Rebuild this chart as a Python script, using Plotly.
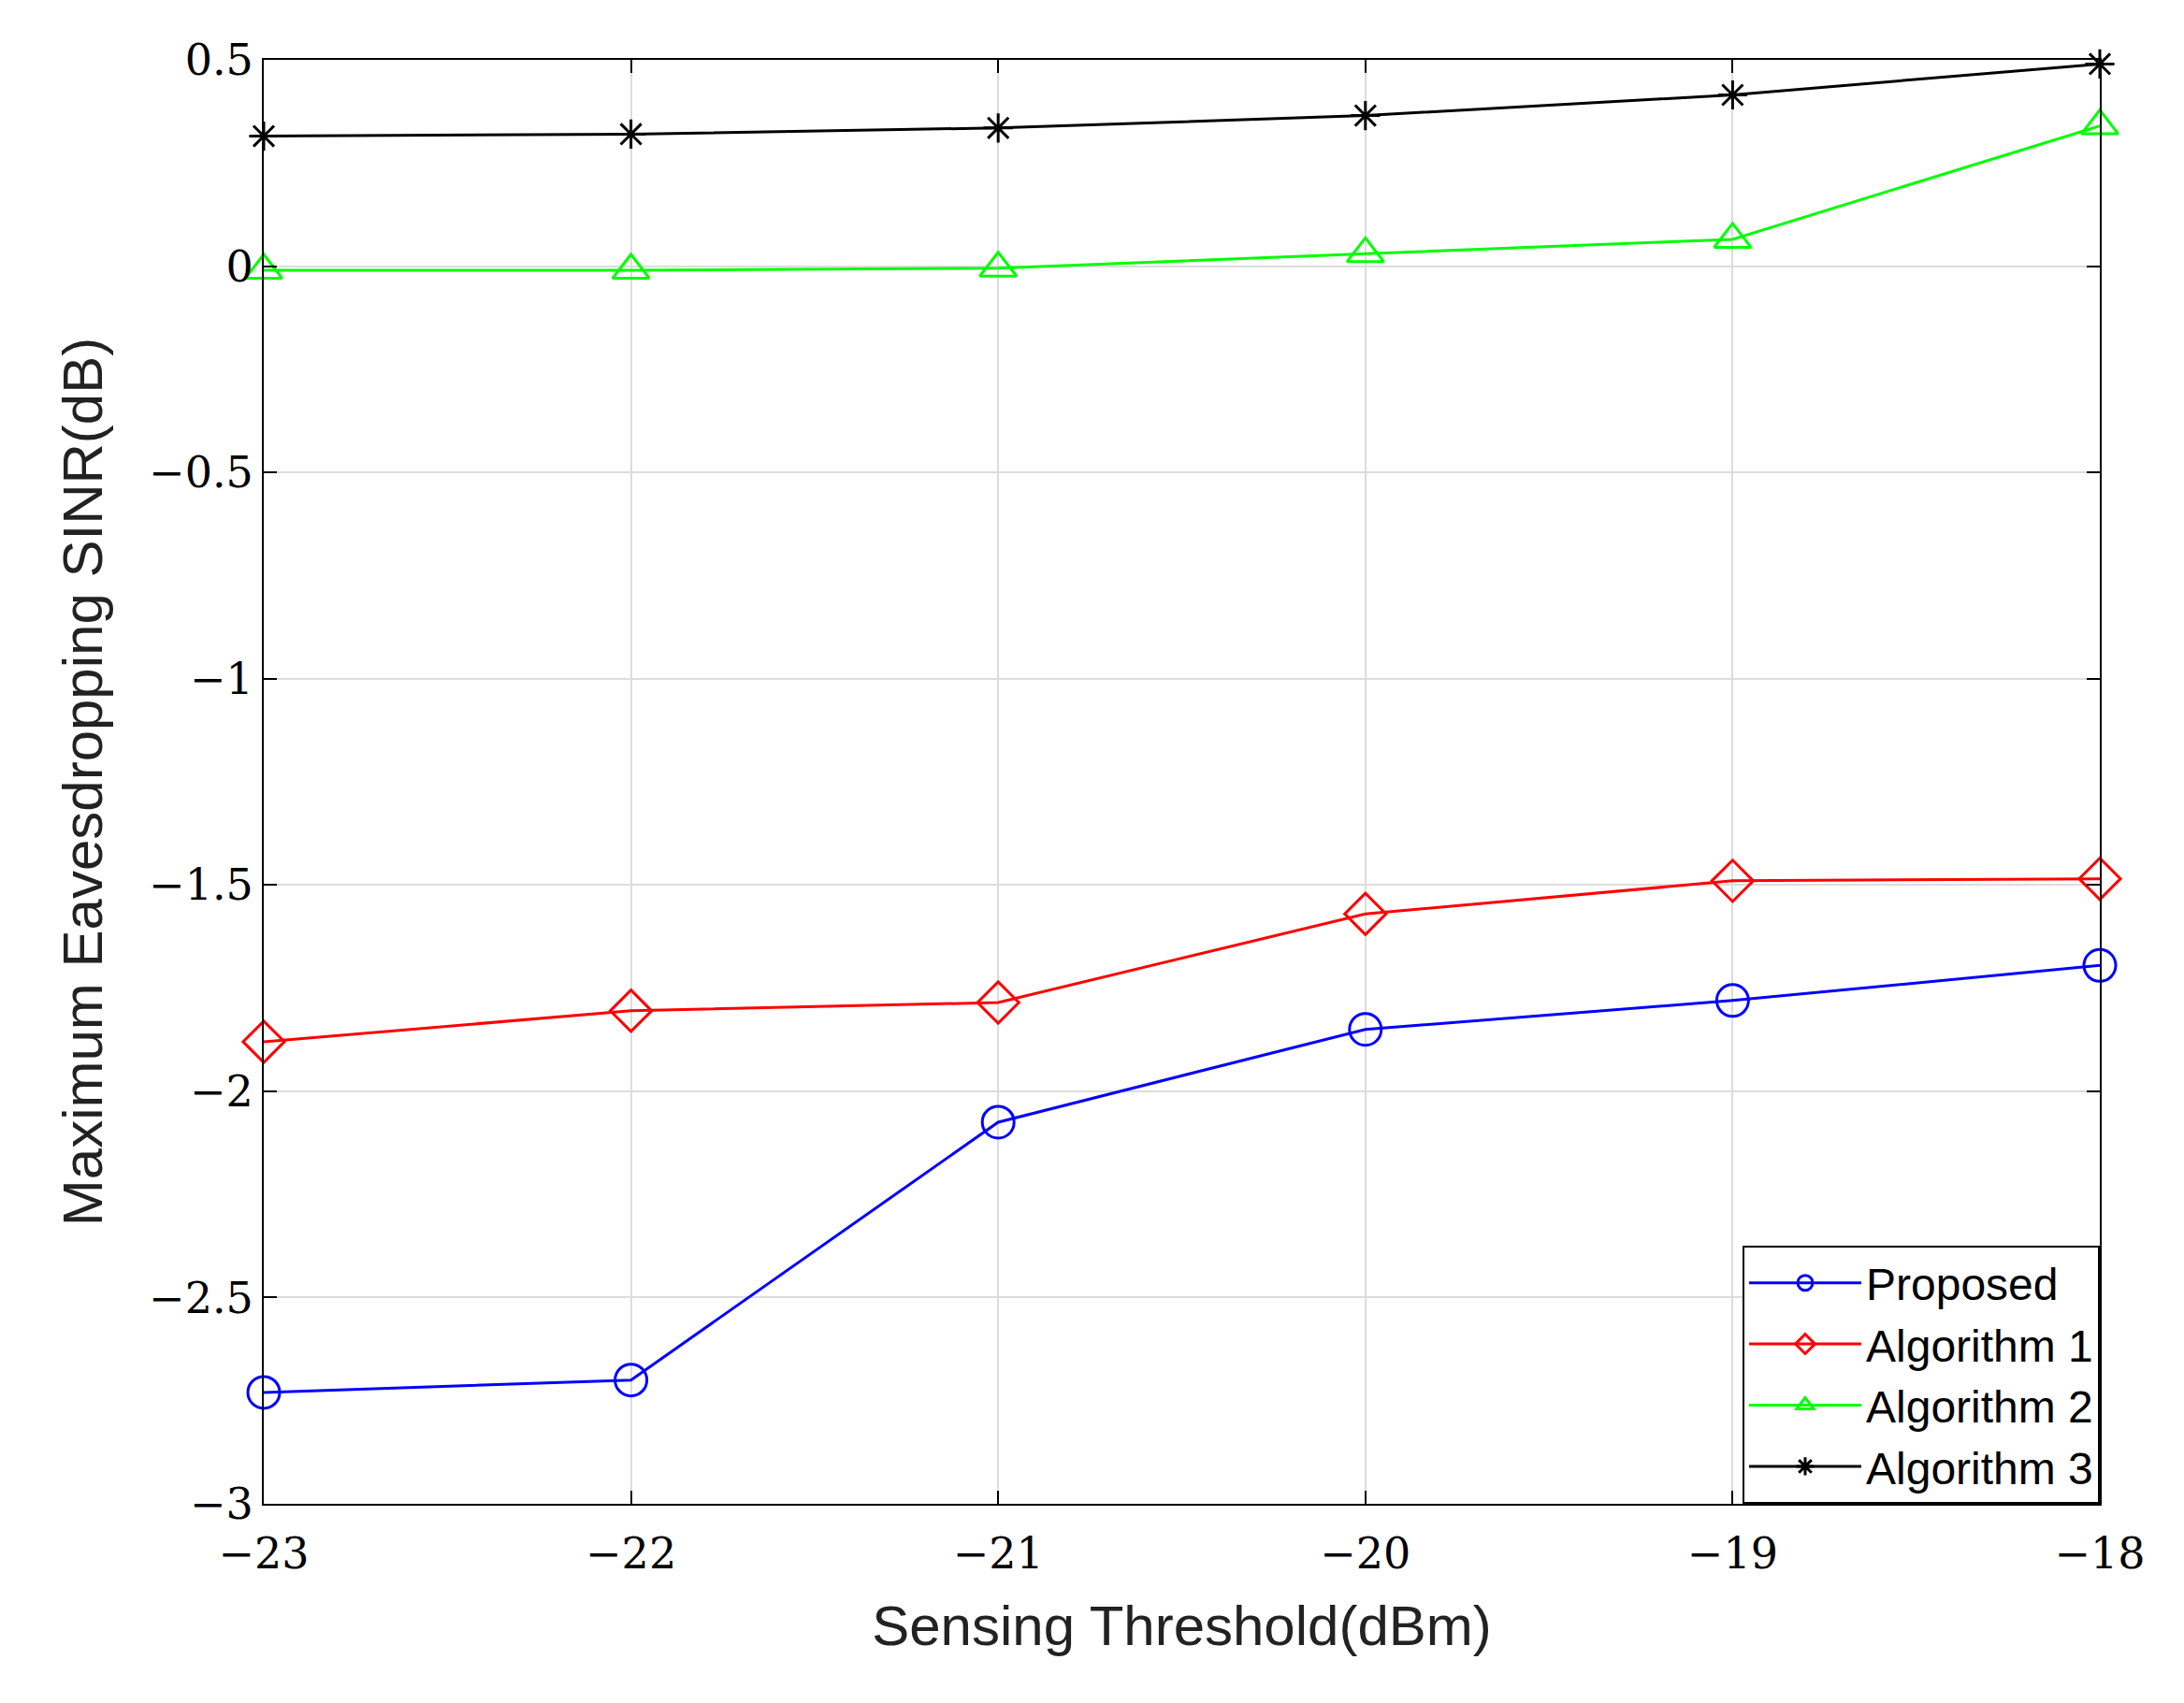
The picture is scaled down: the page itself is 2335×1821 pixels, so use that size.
import plotly.graph_objects as go

x = [-23, -22, -21, -20, -19, -18]
proposed = [-2.73, -2.70, -2.075, -1.85, -1.78, -1.695]
alg1 = [-1.88, -1.805, -1.785, -1.57, -1.49, -1.485]
alg2 = [-0.01, -0.01, -0.005, 0.03, 0.065, 0.34]
alg3 = [0.315, 0.32, 0.335, 0.365, 0.415, 0.49]
names = ["Proposed", "Algorithm 1", "Algorithm 2", "Algorithm 3"]
colors = ["#0000FF", "#FF0000", "#00FF00", "#000000"]
symbols = ["circle-open", "diamond-open", "triangle-up-open", "asterisk-open"]
xticks = [-23, -22, -21, -20, -19, -18]
yticks = [-3, -2.5, -2, -1.5, -1, -0.5, 0, 0.5]

def lab(v):
    s = ("%g" % v)
    return s.replace("-", "\u2212")

fig = go.Figure()
for ys, n, c, s in zip([proposed, alg1, alg2, alg3], names, colors, symbols):
    fig.add_trace(go.Scatter(x=x, y=ys, name=n, mode="lines+markers", cliponaxis=False,
                             line=dict(color=c, width=3),
                             marker=dict(symbol=s, size=34 if s != "asterisk-open" else 26,
                                         color=c, line=dict(color=c, width=3))))

axis_common = dict(showline=True, linecolor="black", linewidth=2, mirror="ticks",
                   ticks="inside", ticklen=14, tickwidth=2, tickcolor="black",
                   showgrid=True, gridcolor="#DCDCDC", gridwidth=2, zeroline=False,
                   tickfont=dict(family="DejaVu Serif", size=46, color="black"))
fig.update_xaxes(range=[-23, -18], tickvals=xticks, ticktext=[lab(v) for v in xticks],
                 ticklabelstandoff=12,
                 title=dict(text="Sensing Threshold(dBm)", standoff=30,
                            font=dict(family="Liberation Sans", size=60, color="#222")),
                 **axis_common)
fig.update_yaxes(range=[-3, 0.5], tickvals=yticks, ticktext=[lab(v) for v in yticks],
                 title=dict(text="Maximum Eavesdropping SINR(dB)", standoff=30,
                            font=dict(family="Liberation Sans", size=60, color="#222")),
                 **axis_common)
fig.update_layout(width=2335, height=1821, paper_bgcolor="white", plot_bgcolor="white",
                  margin=dict(l=274, r=98, t=56, b=221),
                  legend=dict(x=1, y=0, xanchor="right", yanchor="bottom",
                              bordercolor="black", borderwidth=2, bgcolor="white",
                              font=dict(family="Liberation Sans", size=48, color="black"),
                              itemwidth=120, tracegroupgap=8))
fig.write_html("out.html")
